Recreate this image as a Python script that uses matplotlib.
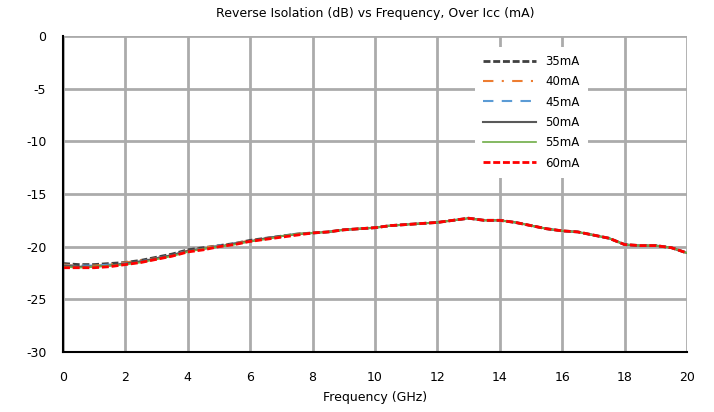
import matplotlib.pyplot as plt

plt.rcParams['axes.unicode_minus'] = False

freq = [0, 0.5, 1, 1.5, 2, 2.5, 3, 3.5, 4, 4.5, 5, 5.5, 6, 6.5, 7, 7.5, 8, 8.5, 9, 9.5,
        10, 10.5, 11, 11.5, 12, 12.5, 13, 13.5, 14, 14.5, 15, 15.5, 16, 16.5, 17, 17.5,
        18, 18.5, 19, 19.5, 20]

iso_35 = [-21.6, -21.7, -21.7, -21.6, -21.5, -21.3, -21.0, -20.7, -20.3, -20.1, -19.9,
          -19.7, -19.4, -19.2, -19.0, -18.8, -18.7, -18.6, -18.4, -18.3, -18.2, -18.0,
          -17.9, -17.8, -17.7, -17.5, -17.3, -17.5, -17.5, -17.7, -18.0, -18.3, -18.5,
          -18.6, -18.9, -19.2, -19.8, -19.9, -19.9, -20.1, -20.6]
iso_40 = [-21.7, -21.8, -21.8, -21.7, -21.5, -21.3, -21.1, -20.8, -20.4, -20.1, -19.9,
          -19.7, -19.4, -19.2, -19.0, -18.8, -18.7, -18.6, -18.4, -18.3, -18.2, -18.0,
          -17.9, -17.8, -17.7, -17.5, -17.3, -17.5, -17.5, -17.7, -18.0, -18.3, -18.5,
          -18.6, -18.9, -19.2, -19.8, -19.9, -19.9, -20.1, -20.6]
iso_45 = [-21.8, -21.8, -21.8, -21.7, -21.6, -21.4, -21.1, -20.8, -20.4, -20.2, -19.9,
          -19.7, -19.5, -19.2, -19.0, -18.8, -18.7, -18.6, -18.4, -18.3, -18.2, -18.0,
          -17.9, -17.8, -17.7, -17.5, -17.3, -17.5, -17.5, -17.7, -18.0, -18.3, -18.5,
          -18.6, -18.9, -19.2, -19.8, -19.9, -19.9, -20.1, -20.6]
iso_50 = [-21.8, -21.9, -21.9, -21.8, -21.6, -21.4, -21.1, -20.8, -20.4, -20.2, -20.0,
          -19.7, -19.5, -19.2, -19.0, -18.8, -18.7, -18.6, -18.4, -18.3, -18.2, -18.0,
          -17.9, -17.8, -17.7, -17.5, -17.3, -17.5, -17.5, -17.7, -18.0, -18.3, -18.5,
          -18.6, -18.9, -19.2, -19.8, -19.9, -19.9, -20.1, -20.6]
iso_55 = [-21.9, -22.0, -21.9, -21.8, -21.7, -21.5, -21.2, -20.9, -20.5, -20.2, -20.0,
          -19.8, -19.5, -19.3, -19.0, -18.8, -18.7, -18.6, -18.4, -18.3, -18.2, -18.0,
          -17.9, -17.8, -17.7, -17.5, -17.3, -17.5, -17.5, -17.7, -18.0, -18.3, -18.5,
          -18.6, -18.9, -19.2, -19.8, -19.9, -19.9, -20.1, -20.6]
iso_60 = [-22.0, -22.0, -22.0, -21.9, -21.7, -21.5, -21.2, -20.9, -20.5, -20.3, -20.0,
          -19.8, -19.5, -19.3, -19.1, -18.9, -18.7, -18.6, -18.4, -18.3, -18.2, -18.0,
          -17.9, -17.8, -17.7, -17.5, -17.3, -17.5, -17.5, -17.7, -18.0, -18.3, -18.5,
          -18.6, -18.9, -19.2, -19.8, -19.9, -19.9, -20.1, -20.6]

labels = ['35mA', '40mA', '45mA', '50mA', '55mA', '60mA']

fig = plt.figure(figsize=(7.14, 4.12), dpi=100)
ax = fig.add_axes([63 / 714, 1 - 352 / 412, 624 / 714, 316 / 412])

ax.plot(freq, iso_35, color='#404040', ls=(0, (2.5, 1)), lw=2, label=labels[0])
ax.plot(freq, iso_40, color='#ED7D31', ls=(0, (5, 4, 1, 4)), lw=1.5, label=labels[1])
ax.plot(freq, iso_45, color='#5B9BD5', ls=(0, (5, 4)), lw=1.5, label=labels[2])
ax.plot(freq, iso_50, color='#595959', ls='-', lw=1.5, label=labels[3])
ax.plot(freq, iso_55, color='#70AD47', ls='-', lw=1.2, label=labels[4])
ax.plot(freq, iso_60, color='#FF0000', ls=(0, (2.5, 1)), lw=2, label=labels[5])

ax.set_xlim(0, 20)
ax.set_ylim(-30, 0)
ax.set_xticks(range(0, 21, 2))
ax.set_yticks(range(-30, 1, 5))
ax.grid(True, color='#ABABAB', lw=2)
ax.set_axisbelow(True)
for s in ['top', 'right']:
    ax.spines[s].set_visible(False)
ax.spines['left'].set_color('black')
ax.spines['bottom'].set_color('black')
ax.spines['left'].set_linewidth(1.5)
ax.spines['bottom'].set_linewidth(1.5)
ax.tick_params(length=0, labelsize=9)
ax.tick_params(axis='x', pad=14)
ax.tick_params(axis='y', pad=12)

ax.set_title('Reverse Isolation (dB) vs Frequency, Over Icc (mA)', fontsize=9, pad=14)
ax.set_xlabel('Frequency (GHz)', fontsize=9, labelpad=5)

leg = ax.legend(loc='upper left', bbox_to_anchor=(0.65, 0.985), fontsize=8.5,
                handlelength=4.5, labelspacing=0.62, frameon=True, fancybox=False,
                borderpad=0.7)
leg.get_frame().set_edgecolor('none')
leg.get_frame().set_facecolor('white')
leg.get_frame().set_alpha(1)

fig.savefig('out.png')
